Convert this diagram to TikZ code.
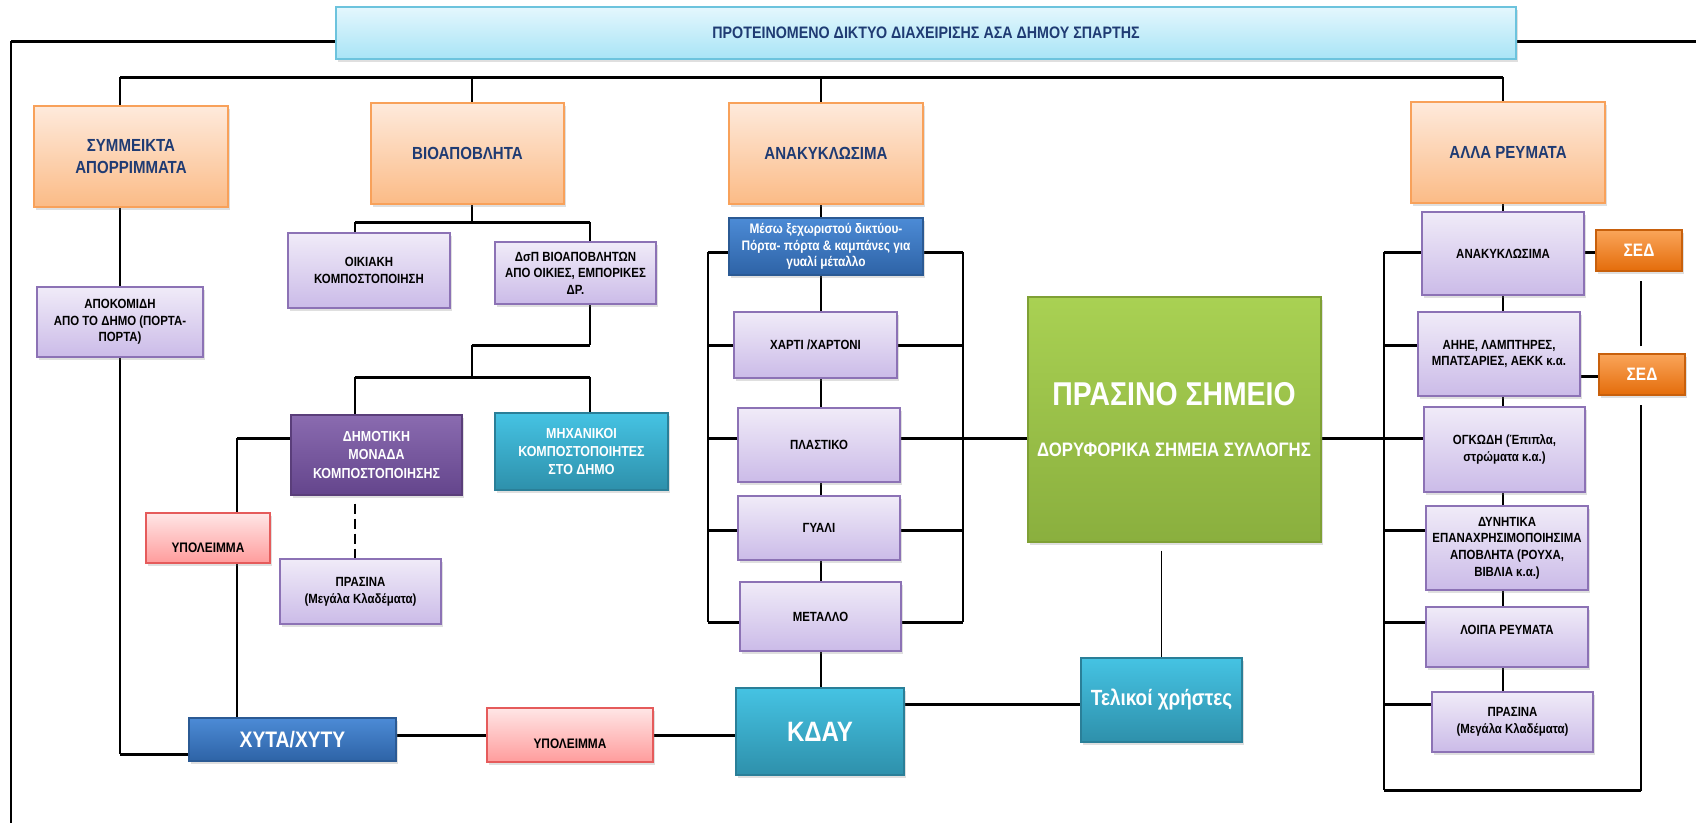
\documentclass[tikz,border=0pt]{standalone}
\usepackage{fontspec}
\setmainfont{Liberation Sans}[FakeStretch=0.86]
\usetikzlibrary{shadows}
\pgfdeclarelayer{background}
\pgfsetlayers{background,main}
\definecolor{navy}{HTML}{1F3B73}
\definecolor{tiTop}{HTML}{E4F7FD}\definecolor{tiBot}{HTML}{A8E4F6}\definecolor{tiBd}{HTML}{6CC3DD}
\definecolor{orTop}{HTML}{FEEADC}\definecolor{orBot}{HTML}{FBBB86}\definecolor{orBd}{HTML}{F8A15A}
\definecolor{lvTop}{HTML}{F0EBF8}\definecolor{lvBot}{HTML}{CBBBE8}\definecolor{lvBd}{HTML}{8C72B5}
\definecolor{puTop}{HTML}{8A6BB0}\definecolor{puBot}{HTML}{64458C}\definecolor{puBd}{HTML}{5A3E7A}
\definecolor{teTop}{HTML}{45C3E3}\definecolor{teBot}{HTML}{2E90AB}\definecolor{teBd}{HTML}{2A7F98}
\definecolor{blTop}{HTML}{4C8BD6}\definecolor{blBot}{HTML}{2E63A6}\definecolor{blBd}{HTML}{2B5A94}
\definecolor{piTop}{HTML}{FFE6E6}\definecolor{piBot}{HTML}{FF9C9C}\definecolor{piBd}{HTML}{E55B5B}
\definecolor{grTop}{HTML}{A9D153}\definecolor{grBot}{HTML}{8AAF3E}\definecolor{grBd}{HTML}{7FA035}
\definecolor{seTop}{HTML}{FAA55A}\definecolor{seBot}{HTML}{E46C0A}\definecolor{seBd}{HTML}{C8600C}
\begin{document}
\begin{tikzpicture}[x=1pt,y=-1pt,
  wh/.style n args={2}{minimum width=#1pt, minimum height=#2pt},
  box/.style={draw, line width=1.2pt, inner sep=1pt, align=center,
    drop shadow={opacity=0.25, shadow xshift=2pt, shadow yshift=-2.5pt}},
  fs/.style={font=\fontsize{#1}{\dimexpr#1pt*5/4\relax}\selectfont\bfseries},
  titlebox/.style={box, draw=tiBd, top color=tiTop, bottom color=tiBot, text=navy, fs=16.6},
  obox/.style={box, draw=orBd, top color=orTop, bottom color=orBot, text=navy, fs=17.5},
  lav/.style={box, draw=lvBd, top color=lvTop, bottom color=lvBot, text=black, fs=13.3},
  purp/.style={box, draw=puBd, top color=puTop, bottom color=puBot, text=white, fs=14.5},
  teal/.style={box, draw=teBd, top color=teTop, bottom color=teBot, text=white, fs=14.5},
  bluebox/.style={box, draw=blBd, top color=blTop, bottom color=blBot, text=white, fs=13},
  pink/.style={box, draw=piBd, top color=piTop, bottom color=piBot, text=black, fs=13},
  greenbox/.style={box, draw=grBd, top color=grTop, bottom color=grBot, text=white},
  sed/.style={box, draw=seBd, top color=seTop, bottom color=seBot, text=white, fs=18},
  lbl/.style={inner sep=0pt, align=center},
  hl/.style={line width=3pt, line join=miter},
  vl/.style={line width=1.8pt},
  vb/.style={line width=2.4pt}]
\useasboundingbox (0,0) rectangle (1696,822);

% ---- nodes ----
\node[titlebox, wh={1180}{52}] (title) at (926,33) {ΠΡΟΤΕΙΝΟΜΕΝΟ ΔΙΚΤΥΟ ΔΙΑΧΕΙΡΙΣΗΣ ΑΣΑ ΔΗΜΟΥ ΣΠΑΡΤΗΣ};

\node[obox, wh={194}{101}] (o1) at (131,156.5) {ΣΥΜΜΕΙΚΤΑ\\ΑΠΟΡΡΙΜΜΑΤΑ};
\node[obox, wh={193}{101}] (o2) at (467.5,153.5) {ΒΙΟΑΠΟΒΛΗΤΑ};
\node[obox, wh={194}{101}] (o3) at (826,153.5) {ΑΝΑΚΥΚΛΩΣΙΜΑ};
\node[obox, wh={194}{101}] (o4) at (1508,152.5) {ΑΛΛΑ ΡΕΥΜΑΤΑ};

\node[lav, wh={166}{70}] (apo) at (120,322) {ΑΠΟΚΟΜΙΔΗ\\ΑΠΟ ΤΟ ΔΗΜΟ (ΠΟΡΤΑ-\\ΠΟΡΤΑ)};
\node[lav, wh={162}{75}] (oik) at (369,270.5) {ΟΙΚΙΑΚΗ\\ΚΟΜΠΟΣΤΟΠΟΙΗΣΗ};
\node[lav, wh={161}{62}] (dsp) at (575.5,273) {ΔσΠ ΒΙΟΑΠΟΒΛΗΤΩΝ\\ΑΠΟ ΟΙΚΙΕΣ, ΕΜΠΟΡΙΚΕΣ\\ΔΡ.};
\node[purp, wh={171}{80}] (dim) at (376.5,455) {ΔΗΜΟΤΙΚΗ\\ΜΟΝΑΔΑ\\ΚΟΜΠΟΣΤΟΠΟΙΗΣΗΣ};
\node[teal, wh={173}{77}] (mix) at (581.5,451.5) {ΜΗΧΑΝΙΚΟΙ\\ΚΟΜΠΟΣΤΟΠΟΙΗΤΕΣ\\ΣΤΟ ΔΗΜΟ};
\node[pink, wh={124}{50}] (yp1) at (208,538) {};
\node[lbl, fs=13.8] (yp1t) at (208,548) {ΥΠΟΛΕΙΜΜΑ};
\node[lav, wh={161}{65}] (pr1) at (360.5,591.5) {ΠΡΑΣΙΝΑ\\(Μεγάλα Κλαδέματα)};
\node[bluebox, wh={207}{43}, fs=22.4] (xyta) at (292.5,739.5) {ΧΥΤΑ/ΧΥΤΥ};
\node[pink, wh={166}{54}] (yp2) at (570,735) {};
\node[lbl, fs=13.8] (yp2t) at (570,744) {ΥΠΟΛΕΙΜΜΑ};
\node[teal, wh={168}{87}, fs=28] (kday) at (820,731.5) {ΚΔΑΥ};

\node[bluebox, wh={194}{57}, font=\fontsize{13.8}{16.5}\selectfont\bfseries] (mes) at (826,246.5) {Μέσω ξεχωριστού δικτύου-\\Πόρτα- πόρτα \& καμπάνες για\\γυαλί μέταλλο};
\node[lav, wh={163}{66}] (xar) at (815.5,345) {ΧΑΡΤΙ /ΧΑΡΤΟΝΙ};
\node[lav, wh={162}{74}] (pla) at (819,445) {ΠΛΑΣΤΙΚΟ};
\node[lav, wh={162}{64}] (gya) at (819,528) {ΓΥΑΛΙ};
\node[lav, wh={161}{69}] (met) at (820.5,616.5) {ΜΕΤΑΛΛΟ};

\node[greenbox, wh={293}{245}] (gr) at (1174.5,419.5) {};
\node[lbl, fs=33, text=white] (grt1) at (1174,394) {ΠΡΑΣΙΝΟ ΣΗΜΕΙΟ};
\node[lbl, fs=19.5, text=white] (grt2) at (1174,450) {ΔΟΡΥΦΟΡΙΚΑ ΣΗΜΕΙΑ ΣΥΛΛΟΓΗΣ};
\node[teal, wh={161}{84}, fs=22] (tel) at (1161.5,700) {Τελικοί χρήστες};

\node[lav, wh={162}{83}] (ra) at (1503,253.5) {ΑΝΑΚΥΚΛΩΣΙΜΑ};
\node[lav, wh={162}{84}] (ah) at (1499,354) {ΑΗΗΕ, ΛΑΜΠΤΗΡΕΣ,\\ΜΠΑΤΣΑΡΙΕΣ, ΑΕΚΚ κ.α.};
\node[lav, wh={161}{85}] (og) at (1504.5,449.5) {ΟΓΚΩΔΗ (Έπιπλα,\\στρώματα κ.α.)};
\node[lav, wh={162}{84}] (dy) at (1507,548) {ΔΥΝΗΤΙΚΑ\\ΕΠΑΝΑΧΡΗΣΙΜΟΠΟΙΗΣΙΜΑ\\ΑΠΟΒΛΗΤΑ (ΡΟΥΧΑ,\\ΒΙΒΛΙΑ κ.α.)};
\node[lav, wh={162}{60}] (lo) at (1507,637) {};
\node[lbl, fs=13.3] (lot) at (1507,630) {ΛΟΙΠΑ ΡΕΥΜΑΤΑ};
\node[lav, wh={161}{60}] (pr2) at (1512.5,722) {ΠΡΑΣΙΝΑ\\(Μεγάλα Κλαδέματα)};
\node[sed, wh={86}{41}] (sed1) at (1639,250.5) {ΣΕΔ};
\node[sed, wh={86}{41}] (sed2) at (1642,374.5) {ΣΕΔ};

% ---- coordinates ----
\coordinate (fTL) at (11,41);
\coordinate (fBL) at (11,823);
\coordinate (fR) at (1697,41);
\coordinate (busL) at (120,77);
\coordinate (bus2) at (472,77);
\coordinate (bus3) at (821,77);
\coordinate (busR) at (1503,77);
\coordinate (b2) at (472,222);
\coordinate (bL) at (355,222);
\coordinate (bR) at (590,222);
\coordinate (c1) at (590,345);
\coordinate (c2) at (472,345);
\coordinate (c3) at (472,377);
\coordinate (cL) at (355,377);
\coordinate (cR) at (590,377);
\coordinate (d1) at (237,438);
\coordinate (e1) at (120,754);
\coordinate (L1) at (708,252);
\coordinate (L5) at (708,622);
\coordinate (R1) at (963,252);
\coordinate (R5) at (963,622);
\coordinate (m) at (963,438);
\coordinate (RB1) at (1384,252);
\coordinate (RBb) at (1384,790);
\coordinate (RBr) at (1641,790);

% ---- connectors ----
\begin{pgfonlayer}{background}
\draw[hl] ([yshift=-8pt]title.west) -- (fTL);
\draw[vb] (fTL) -- (fBL);
\draw[hl] ([yshift=-8pt]title.east) -- (fR);
\draw[hl] (busL) -- (busR);
\draw[vl] (busL) -- (busL |- o1.north);
\draw[vl] (bus2) -- (bus2 |- o2.north);
\draw[vl] (bus3) -- (bus3 |- o3.north);
\draw[vl] (busR) -- (busR |- o4.north);
% symmeikta
\draw[vl] (busL |- o1.south) -- (apo.north);
\draw[vl] (apo.south) -- (e1);
\draw[hl] (e1) -- (e1 -| xyta.west);
% bioapovlita
\draw[vl] (b2 |- o2.south) -- (b2);
\draw[hl] (bL) -- (bR);
\draw[vl] (bL) -- (bL |- oik.north);
\draw[vl] (bR) -- (bR |- dsp.north);
\draw[vl] (c1 |- dsp.south) -- (c1);
\draw[hl] (c1) -- (c2);
\draw[vl] (c2) -- (c3);
\draw[hl] (cL) -- (cR);
\draw[vl] (cL) -- (cL |- dim.north);
\draw[vl] (cR) -- (cR |- mix.north);
\draw[vl, dash pattern=on 10pt off 5pt] (cL |- dim.south) ++(0,8) -- (cL |- pr1.north);
\draw[hl] (dim.west |- d1) -- (d1);
\draw[vl] (d1) -- (d1 |- yp1.north);
\draw[vl] (d1 |- yp1.south) -- (d1 |- xyta.north);
\draw[hl] (xyta.east |- yp2.west) -- (yp2.west);
\draw[hl] (yp2.east) -- (yp2.east -| kday.west);
% anakyklosima column
\draw[vl] (bus3 |- o3.south) -- (bus3 |- mes.north);
\draw[vl] (bus3 |- mes.south) -- (bus3 |- xar.north);
\draw[vl] (bus3 |- xar.south) -- (bus3 |- pla.north);
\draw[vl] (bus3 |- pla.south) -- (bus3 |- gya.north);
\draw[vl] (bus3 |- gya.south) -- (bus3 |- met.north);
\draw[vl] (bus3 |- met.south) -- (bus3 |- kday.north);
\draw[vb] (L1) -- (L5);
\draw[vb] (R1) -- (R5);
\foreach \n/\yy in {mes/252, xar/345, pla/438, gya/530, met/622} {
  \draw[hl] (708,\yy) -- (\n.west |- 708,\yy);
  \draw[hl] (\n.east |- 963,\yy) -- (963,\yy);
}
\draw[hl] (m) -- (m -| gr.west);
\draw[hl] (m -| gr.east) -- (m -| og.west);
\draw[vl] (gr.south -| tel.north) ++(0,8) -- (tel.north);
\draw[hl] (kday.east |- 0,704) -- (tel.west |- 0,704);
% alla revmata
\draw[vl] (busR |- o4.south) -- (busR |- ra.north);
\draw[vl] (busR |- ra.south) -- (busR |- ah.north);
\draw[vl] (busR |- ah.south) -- (busR |- og.north);
\draw[vl] (busR |- og.south) -- (busR |- dy.north);
\draw[vl] (busR |- dy.south) -- (busR |- lo.north);
\draw[vl] (busR |- lo.south) -- (busR |- pr2.north);
\draw[vb] (RB1) -- (RBb);
\draw[hl] (RBb) -- (RBr);
\draw[vb, shorten <=-1pt, shorten >=9pt] (RBr) -- (RBr |- sed2.south);
\draw[vb, shorten <=7pt, shorten >=9pt] (RBr |- sed2.north) -- (RBr |- sed1.south);
\foreach \n/\yy in {ra/252, ah/345, dy/530, lo/622, pr2/704} {
  \draw[hl] (1384,\yy) -- (\n.west |- 1384,\yy);
}
\draw[hl] (ra.east |- 0,252) -- (sed1.west |- 0,252);
\draw[hl] (ah.east |- 0,376) -- (sed2.west |- 0,376);
\end{pgfonlayer}
\end{tikzpicture}
\end{document}
